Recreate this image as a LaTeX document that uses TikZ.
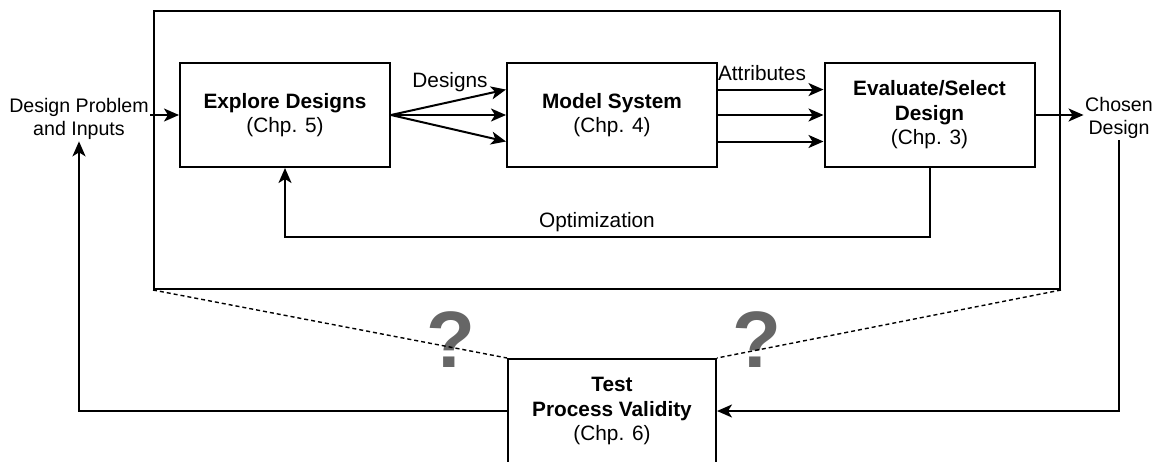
\documentclass[tikz,border=0pt]{standalone}
\usepackage{fontspec}
\setmainfont{Liberation Sans}
\usetikzlibrary{arrows.meta,calc}
\definecolor{qgray}{HTML}{666666}
\begin{document}
\begin{tikzpicture}[x=1pt,y=-1pt,
  box/.style={draw,line width=2pt,minimum width=210pt,minimum height=104pt,align=center,inner sep=0pt,font=\fontsize{20.8}{24.5}\selectfont},
  lab/.style={align=center,inner sep=1.5pt,font=\fontsize{20.8}{24}\selectfont},
  sidelab/.style={align=center,inner sep=1.5pt,font=\fontsize{19.6}{23}\selectfont},
  arr/.style={line width=2pt,-{Stealth[length=15pt,width=13pt,inset=4pt]}},
  dsh/.style={line width=1.4pt,dash pattern=on 4pt off 3pt},
  qm/.style={text=qgray,inner sep=0pt,font=\fontsize{80}{80}\selectfont\bfseries}]
\useasboundingbox (0,0) rectangle (1158,461);
\clip (0,0) rectangle (1158,461);

% main frame
\node[draw,line width=2pt,minimum width=906pt,minimum height=278pt,inner sep=0pt] (frame) at (607,150) {};

% boxes
\node[box] (ex) at (285,115) {\textbf{Explore Designs}\\(Chp. 5)};
\node[box] (ms) at (612,115) {\textbf{Model System}\\(Chp. 4)};
\node[box] (ev) at (929.5,115) {\textbf{Evaluate/Select}\\\textbf{Design}\\(Chp. 3)};
\node[box,minimum width=208pt] (tp) at (612,411) {\textbf{Test}\\\textbf{Process Validity}\\(Chp. 6)};

% outside labels
\node[sidelab] (dp) at (79,119) {Design Problem\\and Inputs};
\node[sidelab] (cd) at (1119,118) {Chosen\\Design};
\node[lab] (dlab) at (450,82) {Designs};
\node[lab] (alab) at (762,73) {Attributes};
\node[lab] (olab) at (597,222) {Optimization};

% question marks
\node[qm] (q1) at (451,340) {?};
\node[qm] (q2) at (757,340) {?};

% input / output
\draw[arr] (dp.east |- ex.west) -- (ex.west);
\draw[arr] (ev.east) -- (ev.east -| cd.west);

% designs
\draw[arr] (ex.east) -- ($(ms.north west)!0.26!(ms.south west)$);
\draw[arr] (ex.east) -- (ms.west);
\draw[arr] (ex.east) -- ($(ms.north west)!0.75!(ms.south west)$);

% attributes
\draw[arr] ($(ms.north east)!0.26!(ms.south east)$) -- ($(ev.north west)!0.26!(ev.south west)$);
\draw[arr] (ms.east) -- (ev.west);
\draw[arr] ($(ms.north east)!0.75!(ms.south east)$) -- ($(ev.north west)!0.75!(ev.south west)$);

% optimization loop
\coordinate (oy) at (0,237);
\draw[arr] (ev.south) -- (ev.south |- oy) -- (ex.south |- oy) -- (ex.south);

% validity loop
\draw[arr] (tp.west) -| (dp.south);
\draw[arr] (cd.south) |- (tp.east);

% dashed projection
\draw[dsh] (frame.south west) -- (tp.north west);
\draw[dsh] (frame.south east) -- (tp.north east);
\end{tikzpicture}
\end{document}
